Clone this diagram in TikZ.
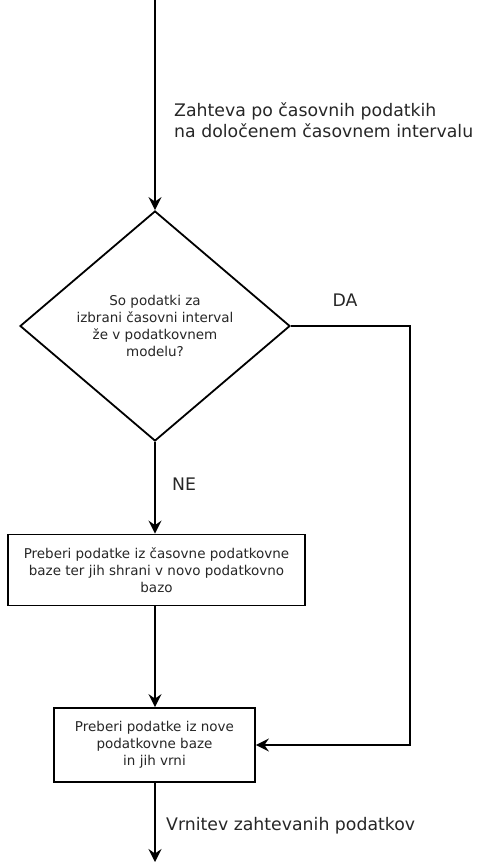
\documentclass[tikz,border=0pt]{standalone}
\usepackage{fontspec}
\setmainfont{DejaVu Sans}
\usetikzlibrary{shapes.geometric,arrows.meta}
\begin{document}
\begin{tikzpicture}[x=1pt,y=-1pt,
  line width=1.8pt,
  arr/.style={-{Stealth[length=13pt,width=13pt,inset=4.5pt]}},
  small/.style={font=\fontsize{13.5}{17}\selectfont, text=black!85},
  big/.style={font=\fontsize{17.3}{21}\selectfont, text=black!85},
  boxa/.style={draw, rectangle, inner sep=0pt, align=center, small}
]
\useasboundingbox (0,0) rectangle (480,865);
\coordinate (top) at (155,0);
\node[draw, diamond, aspect=1.174, minimum width=270pt, minimum height=230pt, inner sep=0pt, align=center, small] (d) at (155,326)
  {So podatki za\\izbrani časovni interval\\že v podatkovnem\\modelu?};
\node[boxa, minimum width=297pt, minimum height=71pt] (b1) at (156.5,570)
  {Preberi podatke iz časovne podatkovne\\baze ter jih shrani v novo podatkovno\\bazo};
\node[boxa, minimum width=201pt, minimum height=74pt] (b2) at (154.5,745)
  {Preberi podatke iz nove\\podatkovne baze\\in jih vrni};
\coordinate (c1) at (410,326);
\coordinate (c2) at (410,745);
\coordinate (end) at (155,862);
\draw[arr] (top) -- (d.north);
\draw[arr] (d.south) -- (b1.north -| d.south);
\draw[arr] (b1.south -| d.south) -- (b2.north -| d.south);
\draw[arr] (d.east) -- (c1) -- (c2) -- (b2.east);
\draw[arr] (b2.south -| d.south) -- (end);
\node[big, anchor=west, align=left] (lt) at (170,120.5) {Zahteva po časovnih podatkih\\na določenem časovnem intervalu};
\node[big, anchor=west] (lb) at (162,826) {Vrnitev zahtevanih podatkov};
\node[big] (da) at (345,300) {DA};
\node[big] (ne) at (184,484) {NE};
\end{tikzpicture}
\end{document}
